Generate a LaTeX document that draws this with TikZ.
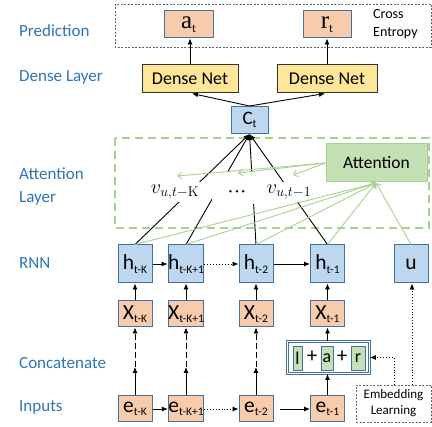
\documentclass[tikz,border=0pt]{standalone}
\usepackage[no-math]{fontspec}
\usepackage{fix-cm}
\setmainfont{Carlito}
\newfontfamily\serifletter{Liberation Serif}
\usetikzlibrary{arrows.meta}

\definecolor{lblblue}{HTML}{2E75B6}
\definecolor{boxedge}{HTML}{41719C}
\definecolor{hfill}{HTML}{BDD7EE}
\definecolor{ofill}{HTML}{F8CBAD}
\definecolor{yfill}{HTML}{FFE699}
\definecolor{gfill}{HTML}{C5E0B4}
\definecolor{gedge}{HTML}{A9D18E}

\newcommand\sbs[1]{\raisebox{-0.35ex}{\fontsize{11.5}{11.5}\selectfont #1}}
\newcommand\bigsz{\fontsize{21.5}{21.5}\selectfont}
\newcommand\outletter[1]{{\serifletter\fontsize{25}{25}\selectfont #1}}

\tikzset{
  lbl/.style={text=lblblue, anchor=west, inner sep=0pt, font=\fontsize{17}{23}\selectfont, align=left},
  cell/.style={draw=boxedge, line width=1pt, inner sep=0pt, minimum width=34pt, font=\bigsz},
  hcell/.style={cell, fill=hfill, minimum height=38pt},
  ocell/.style={cell, fill=ofill, minimum height=26pt},
  dense/.style={draw=black!80, fill=yfill, line width=1pt, minimum height=28pt, inner sep=0pt, font=\fontsize{18}{18}\selectfont},
  gcell/.style={draw=boxedge, fill=gfill, line width=0.9pt, minimum height=24pt, inner sep=0pt, font=\fontsize{18}{18}\selectfont},
  plus/.style={inner sep=0pt, font=\fontsize{21}{21}\selectfont},
  arr/.style={-{Latex[length=6pt,width=5pt]}, line width=0.9pt, black},
  dotarr/.style={arr, dotted},
  dasharr/.style={arr, dash pattern=on 6pt off 3pt},
  garr/.style={-{Straight Barb[length=4pt,width=7pt]}, draw=gedge, line width=0.9pt},
  vlabel/.style={fill=white, inner sep=3pt, font=\fontsize{20}{20}\selectfont},
}

\begin{document}
\begin{tikzpicture}[x=1pt,y=-1pt]
\useasboundingbox (0,0) rectangle (432,427);

% group frames
\draw[gray!80!black, line width=0.7pt, dash pattern=on 2pt off 1.5pt] (115,4) rectangle (431,47);
\draw[gedge, line width=1.4pt, dash pattern=on 8pt off 5pt] (115,138) rectangle (429,228);

% row labels
\node[lbl] (lpred) at (19,31) {Prediction};
\node[lbl] (ldense) at (19,77) {Dense Layer};
\node[lbl] (latt) at (19,186) {Attention\\Layer};
\node[lbl] (lrnn) at (19,263) {RNN};
\node[lbl] (lcat) at (19,363) {Concatenate};
\node[lbl] (linp) at (19,407) {Inputs};

% prediction outputs
\node[cell, fill=ofill, minimum width=49pt, minimum height=27pt] (at) at (188.5,24.5) {\outletter{a}\sbs{t}};
\node[cell, fill=ofill, minimum width=48pt, minimum height=27pt] (rt) at (327,24.5) {\outletter{r}\sbs{t}};
\node[anchor=west, align=left, inner sep=0pt, font=\fontsize{14}{18}\selectfont] (ce) at (373,24) {Cross\\Entropy};

% dense layer
\node[dense, minimum width=96pt] (dn1) at (190,79) {Dense Net};
\node[dense, minimum width=100pt] (dn2) at (327,79) {Dense Net};

% context vector
\node[cell, fill=hfill, minimum width=37pt, minimum height=27pt, font=\fontsize{19}{19}\selectfont] (ct) at (249.5,120) {C\sbs{t}};

% attention block
\node[draw=gedge, fill=gfill, line width=1pt, minimum width=101pt, minimum height=38pt, font=\fontsize{17.5}{17.5}\selectfont] (att) at (376.5,163) {Attention};

% RNN states
\node[hcell] (hK)  at (135,264) {h\sbs{t-K}};
\node[hcell] (hK1) at (186,264) {h\sbs{t-K+1}};
\node[hcell] (h2)  at (256,264) {h\sbs{t-2}};
\node[hcell] (h1)  at (327.5,264) {h\sbs{t-1}};
\node[hcell] (u)   at (411,264) {u};

% RNN inputs
\node[ocell] (xK)  at (135,314) {X\sbs{t-K}};
\node[ocell] (xK1) at (186,314) {X\sbs{t-K+1}};
\node[ocell] (x2)  at (256,314) {X\sbs{t-2}};
\node[ocell] (x1)  at (327.5,314) {X\sbs{t-1}};

% raw inputs
\node[ocell] (eK)  at (135,409) {e\sbs{t-K}};
\node[ocell] (eK1) at (186,409) {e\sbs{t-K+1}};
\node[ocell] (e2)  at (256,409) {e\sbs{t-2}};
\node[ocell] (e1)  at (327.5,409) {e\sbs{t-1}};

% concatenation of l, a, r
\node[draw=boxedge, double=white, double distance=1.4pt, line width=0.8pt, minimum width=82pt, minimum height=32pt, inner sep=0pt] (cat) at (328.5,357.5) {};
\node[gcell, minimum width=9pt]  (cl) at (297.5,358) {l};
\node[plus] (p1) at (312,357) {+};
\node[gcell, minimum width=12pt] (ca) at (327,358) {a};
\node[plus] (p2) at (342,357) {+};
\node[gcell, minimum width=14pt] (cr) at (358,358) {r};

% embedding learning
\node[draw=gray!80!black, line width=0.7pt, dash pattern=on 2pt off 1.5pt, minimum width=75pt, minimum height=37pt, align=center, inner sep=0pt, font=\fontsize{13}{16}\selectfont] (emb) at (393.5,403.5) {Embedding\\Learning};

% context vector feeds both dense nets
\draw[arr] (ct.north) -- (dn1.south -| 192,0);
\draw[arr] (ct.north) -- (dn2.south -| 325,0);
\draw[arr] (dn1.north) -- (at.south -| dn1.north);
\draw[arr] (dn2.north -| rt.south) -- (rt.south);

% weighted hidden states into the context vector
\draw[arr] (hK.north)  -- (ct.south);
\draw[arr] (hK1.north) -- (ct.south);
\draw[arr] (h2.north)  -- (ct.south);
\draw[arr] (h1.north)  -- (ct.south);

% weighted state labels
\node[vlabel] (vK) at (175,192) {$v_{u,t-\mathrm{K}}$};
\node[fill=white, inner sep=0pt, minimum width=44pt, minimum height=32pt] (dots) at (234,188) {};
\node[inner sep=0pt, anchor=base, font=\fontsize{23}{23}\selectfont] (dotsym) at (237,198) {$\mathord{\cdot}\mathord{\cdot}\mathord{\cdot}$};
\node[vlabel] (v1) at (289,192) {$v_{u,t-1}$};

% attention weights
\coordinate (wK) at (177,176);
\coordinate (w2) at (238,173);
\coordinate (w1) at (293,175);
\draw[garr] (att.west) -- (wK);
\draw[garr] (att.west) -- (w2);
\draw[garr] (att.west) -- (w1);

% states and user vector into attention
\coordinate (attin) at (376,183);
\draw[garr] (hK.north)  -- (attin);
\draw[garr] (hK1.north) -- (attin);
\draw[garr] (h2.north)  -- (attin);
\draw[garr] (h1.north)  -- (attin);
\draw[garr] (u.north)   -- (attin);

% recurrent links
\draw[arr] (hK.east) -- (hK1.west);
\draw[dotarr] (hK1.east) -- (h2.west);
\draw[arr] (h2.east) -- (h1.west);

% inputs to states
\draw[arr] (xK.north) -- (hK.south);
\draw[arr] (xK1.north) -- (hK1.south);
\draw[arr] (x2.north) -- (h2.south);
\draw[arr] (x1.north) -- (h1.south);

% embedding of raw inputs
\coordinate (mK) at (135,367);
\coordinate (mK1) at (186,367);
\coordinate (m2) at (256,367);
\draw[arr] (eK.north) -- (mK);
\draw[dasharr] (mK) -- (xK.south);
\draw[arr] (eK1.north) -- (mK1);
\draw[dasharr] (mK1) -- (xK1.south);
\draw[arr] (e2.north) -- (m2);
\draw[dasharr] (m2) -- (x2.south);
\draw[arr] (e1.north) -- (cat.south -| e1.north);
\draw[arr] (cat.north -| x1.south) -- (x1.south);

% input sequence links
\draw[arr] (eK.east) -- (eK1.west);
\draw[dotarr] (eK1.east) -- (e2.west);
\coordinate (gap) at (280,409);
\draw[arr] (gap) -- (e1.west);

% learned embeddings
\coordinate (embl) at (394,385);
\coordinate (embr) at (412,385);
\draw[dotarr] (embl) |- (cat.east);
\draw[dotarr] (embr) -- (u.south -| embr);
\end{tikzpicture}
\end{document}
